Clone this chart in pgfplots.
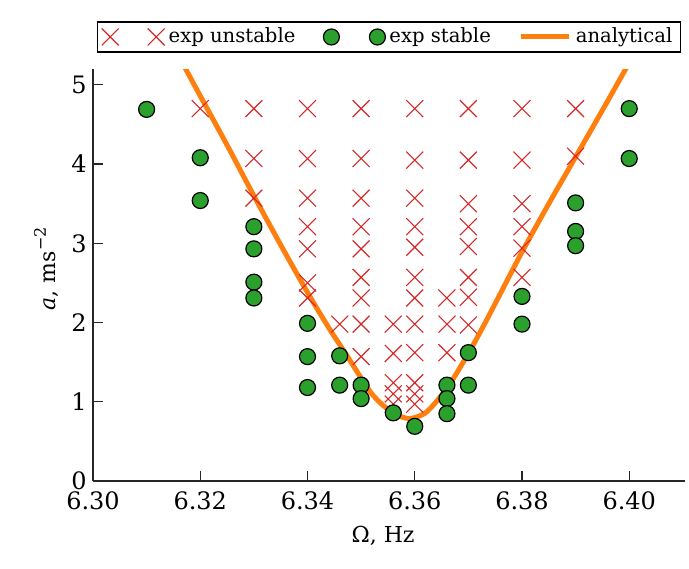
\documentclass[border=0pt]{standalone}
\usepackage{fontspec}
\setmainfont{DejaVu Serif}
\usepackage{pgfplots}
\pgfplotsset{compat=1.18}

\definecolor{tabred}{RGB}{214,39,40}
\definecolor{tabgreen}{RGB}{44,160,44}
\definecolor{taborange}{RGB}{255,127,14}
\definecolor{spine}{RGB}{38,38,38}

\begin{document}
\begin{tikzpicture}[font=\fontsize{10}{12}\selectfont]
\path (0pt,0pt) rectangle (344.5pt,284pt);
\begin{axis}[
  at={(46.5pt,43.5pt)}, anchor=south west,
  scale only axis, width=296pt, height=206pt,
  xmin=6.30, xmax=6.4104, ymin=0, ymax=5.2,
  axis lines=left,
  axis line style={-, spine, line width=0.7pt},
  tick align=inside,
  major tick length=5pt,
  tick style={spine, line width=0.6pt},
  xtick={6.30,6.32,6.34,6.36,6.38,6.40},
  ytick={0,1,2,3,4,5},
  minor tick num=0,
  /pgf/number format/assume math mode=true,
  tick label style={font=\fontsize{12}{14}\selectfont, inner xsep=1pt, inner ysep=0pt},
  xticklabel style={/pgf/number format/fixed, /pgf/number format/fixed zerofill,
    /pgf/number format/precision=2, yshift=-5pt},
  yticklabel style={/pgf/number format/fixed, /pgf/number format/precision=0, xshift=-2pt},
  xlabel={Ω, Hz},
  ylabel={\textit{a}, ms\raisebox{0.85ex}{\fontsize{8}{9}\selectfont −2}},
  every axis x label/.style={at={(axis description cs:0.49,-0.133)}, anchor=center,
    font=\fontsize{11}{13}\selectfont},
  every axis y label/.style={at={(axis description cs:-0.079,0.515)}, rotate=90, anchor=center,
    font=\fontsize{11}{13}\selectfont},
  clip=true,
  legend columns=3,
  legend style={
    at={(0.5,1.04)}, anchor=south,
    draw=black, line width=0.6pt, fill=white,
    inner xsep=2pt, inner ysep=1pt,
    /tikz/every even column/.append style={column sep=12pt},
    font=\fontsize{9.8}{12}\selectfont,
  },
  legend cell align=left,
]

% unstable runs
\addplot[only marks, mark=x, mark size=6pt, draw=tabred, line width=0.55pt,
  legend image code/.code={\draw plot[only marks] coordinates {(0pt,0pt) (23pt,0pt)};}]
  coordinates {
  (6.32,4.70)
  (6.33,4.70) (6.33,4.07) (6.33,3.57)
  (6.34,4.70) (6.34,4.07) (6.34,3.57) (6.34,3.21) (6.34,2.93) (6.34,2.50) (6.34,2.31)
  (6.346,1.98)
  (6.35,4.70) (6.35,4.07) (6.35,3.57) (6.35,3.21) (6.35,2.93) (6.35,2.57) (6.35,2.31) (6.35,1.98) (6.35,1.57)
  (6.356,1.98) (6.356,1.61) (6.356,1.24) (6.356,1.10) (6.356,0.97)
  (6.36,4.70) (6.36,4.05) (6.36,3.57) (6.36,3.21) (6.36,2.95) (6.36,2.57) (6.36,2.31) (6.36,1.98) (6.36,1.62) (6.36,1.24) (6.36,1.10) (6.36,0.97)
  (6.366,2.31) (6.366,1.98) (6.366,1.62)
  (6.37,4.70) (6.37,4.05) (6.37,3.50) (6.37,3.21) (6.37,2.96) (6.37,2.57) (6.37,2.32) (6.37,1.97)
  (6.38,4.70) (6.38,4.05) (6.38,3.50) (6.38,3.21) (6.38,2.94) (6.38,2.57)
  (6.39,4.70) (6.39,4.10)
};
\addlegendentry{exp unstable}

% stable runs
\addplot[only marks, mark=*, mark size=4pt, draw=black, fill=tabgreen, line width=0.6pt,
  legend image code/.code={\draw plot[only marks] coordinates {(0pt,0pt) (23pt,0pt)};}]
  coordinates {
  (6.31,4.69)
  (6.32,4.08) (6.32,3.54)
  (6.33,3.21) (6.33,2.93) (6.33,2.51) (6.33,2.31)
  (6.34,1.99) (6.34,1.57) (6.34,1.18)
  (6.346,1.58) (6.346,1.21)
  (6.35,1.21) (6.35,1.04)
  (6.356,0.86)
  (6.36,0.69)
  (6.366,1.21) (6.366,1.04) (6.366,0.85)
  (6.37,1.62) (6.37,1.21)
  (6.38,2.33) (6.38,1.98)
  (6.39,3.51) (6.39,3.15) (6.39,2.97)
  (6.40,4.70) (6.40,4.07)
};
\addlegendentry{exp stable}

% analytical threshold curve
\addplot[taborange, line width=2.5pt, smooth, no marks,
  legend image code/.code={\draw (0pt,0pt) -- (24pt,0pt);}]
  coordinates {
  (6.3160,5.35) (6.3172,5.21) (6.3200,4.86) (6.3250,4.24) (6.3300,3.60)
  (6.3350,2.98) (6.3400,2.38) (6.3440,1.93) (6.3470,1.62) (6.3500,1.30)
  (6.3520,1.10) (6.3540,0.96) (6.3560,0.86) (6.3575,0.81) (6.3588,0.79)
  (6.3600,0.80) (6.3620,0.86) (6.3640,1.00) (6.3665,1.22) (6.3700,1.61)
  (6.3730,1.98) (6.3760,2.37) (6.3800,2.89) (6.3850,3.50) (6.3900,4.09)
  (6.3950,4.68) (6.3995,5.22) (6.4005,5.34)
};
\addlegendentry{analytical}

\end{axis}
\end{tikzpicture}
\end{document}
